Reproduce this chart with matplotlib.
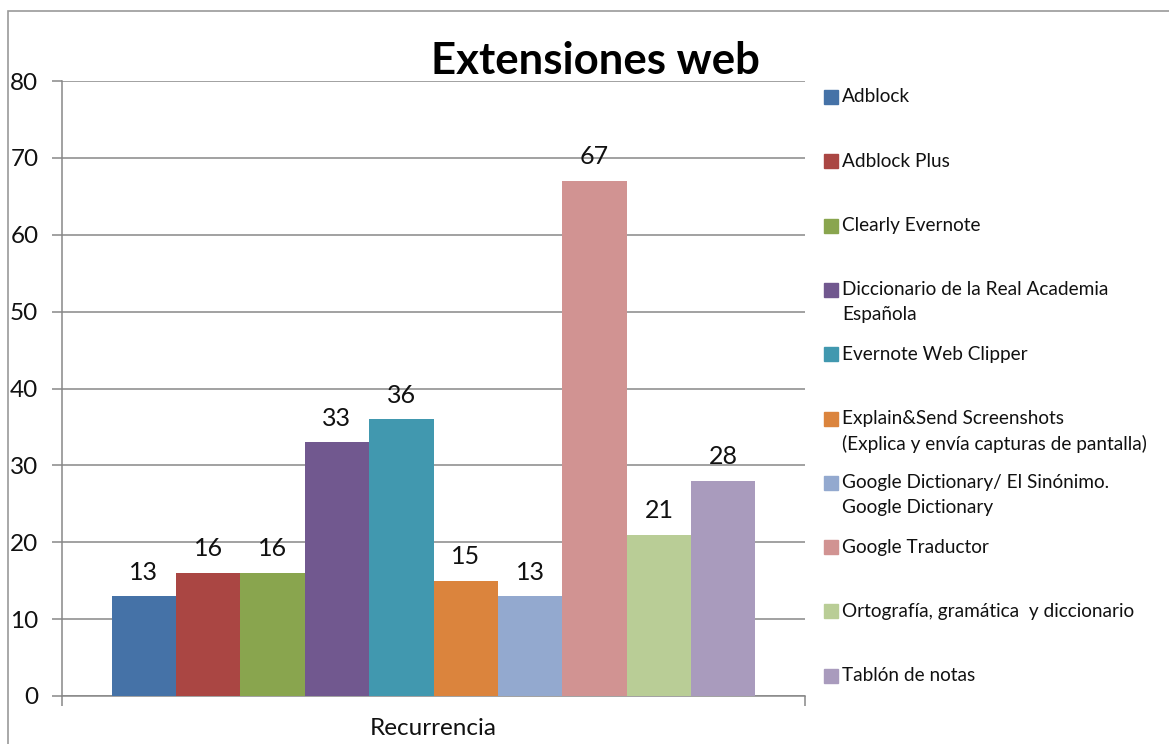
import matplotlib.pyplot as plt
from matplotlib.patches import Rectangle

plt.rcParams["font.family"] = ["Lato", "DejaVu Sans"]

category = "Recurrencia"
series_names = [
    "Adblock",
    "Adblock Plus",
    "Clearly Evernote",
    "Diccionario de la Real Academia\nEspañola",
    "Evernote Web Clipper",
    "Explain&Send Screenshots\n(Explica y envía capturas de pantalla)",
    "Google Dictionary/ El Sinónimo.\nGoogle Dictionary",
    "Google Traductor",
    "Ortografía, gramática  y diccionario",
    "Tablón de notas",
]
values = [13, 16, 16, 33, 36, 15, 13, 67, 21, 28]
colors = [
    "#4572A7", "#AA4643", "#89A54E", "#71588F", "#4198AF",
    "#DB843D", "#93A9CF", "#D19392", "#B9CD96", "#A99BBD",
]
yticks = [0, 10, 20, 30, 40, 50, 60, 70, 80]

W, H = 1169, 744
fig = plt.figure(figsize=(W / 100, H / 100), dpi=100)
fig.patch.set_facecolor("white")

# chart border (runs off the right/bottom edge like the screenshot)
fig.patches.append(Rectangle((8 / W, -0.1), 1.2, (H - 11) / H + 0.1,
                             transform=fig.transFigure, fill=False,
                             edgecolor="#9a9a9a", linewidth=1.2))

ax = fig.add_axes([62 / W, (H - 696) / H, (805 - 62) / W, (696 - 81) / H])

grid_col = "#878787"
txt_col = "#111111"
n = len(values)
group = 644 / 743
width = group / n
for i, (v, c) in enumerate(zip(values, colors)):
    xpos = (i - (n - 1) / 2) * width
    ax.bar(xpos, v, width=width, color=c, linewidth=0, zorder=3)
    ax.annotate(str(v), (xpos, v), xytext=(0, 9), textcoords="offset points",
                ha="center", va="bottom", fontsize=18, color=txt_col)

ax.set_xlim(-0.5, 0.5)
ax.set_ylim(0, 80)
ax.set_yticks(yticks)
ax.yaxis.grid(True, color=grid_col, linewidth=1.1, zorder=0)
ax.tick_params(axis="y", length=7, width=1.1, color=grid_col, pad=10,
               labelsize=17.5, labelcolor=txt_col)

ax.set_xticks([-0.5, 0.5])
ax.set_xticklabels(["", ""])
ax.tick_params(axis="x", which="major", length=7, width=1.1, color=grid_col)
ax.set_xticks([0], minor=True)
ax.set_xticklabels([category], minor=True)
ax.tick_params(axis="x", which="minor", length=0, pad=16, labelsize=17.5,
               labelcolor=txt_col)

for side in ["top", "right"]:
    ax.spines[side].set_visible(False)
for side in ["left", "bottom"]:
    ax.spines[side].set_color(grid_col)
    ax.spines[side].set_linewidth(1.1)

fig.text(595 / W, 1 - 61 / H, "Extensiones web", ha="center", va="center",
         fontsize=31.5, fontweight="bold", color="black")

# legend drawn by hand to keep Excel's spacing
for i, (name, c) in enumerate(zip(series_names, colors)):
    yc = 97 + 64.3 * i
    fig.patches.append(Rectangle((824 / W, 1 - (yc + 7) / H), 14 / W, 14 / H,
                                 transform=fig.transFigure, color=c))
    for j, line in enumerate(name.split("\n")):
        fig.text(842 / W, 1 - (yc + 25 * j) / H, line, ha="left",
                 va="center", fontsize=13.7, color=txt_col)

fig.savefig("out.png", dpi=100)
